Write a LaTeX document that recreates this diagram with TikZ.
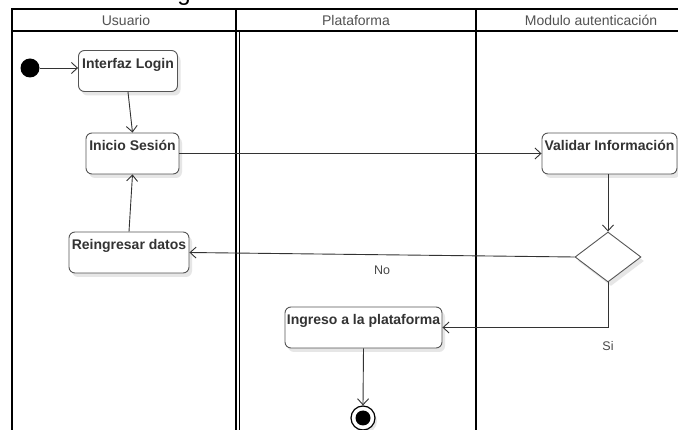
\documentclass[tikz,border=0pt]{standalone}
\usepackage{fontspec}
\setmainfont{Liberation Sans}
\usetikzlibrary{shapes.geometric,arrows.meta,shadows}
\definecolor{boxline}{HTML}{555555}
\definecolor{txt}{HTML}{333333}
\definecolor{wire}{HTML}{333333}
\tikzset{
  lane/.style={line width=1.6pt, draw=black},
  lanehead/.style={font=\fontsize{14}{16}\selectfont, text=txt!85},
  actbox/.style={draw=boxline, line width=0.9pt, fill=white, rounded corners=6pt,
    font=\bfseries\fontsize{14}{16}\selectfont, text=txt,
    inner xsep=0pt, inner ysep=6pt, text height=12pt, text depth=17pt,
    drop shadow={shadow xshift=3pt, shadow yshift=-4pt, fill=black!12, opacity=0.8}},
  decision/.style={diamond, draw=boxline, line width=0.9pt, fill=white, inner sep=0pt,
    minimum width=66pt, minimum height=50pt,
    drop shadow={shadow xshift=3pt, shadow yshift=-4pt, fill=black!12, opacity=0.8}},
  flow/.style={draw=wire, line width=0.9pt, -{Straight Barb[length=6pt,width=11pt]}},
  guard/.style={font=\fontsize{12.5}{14}\selectfont, text=txt!90},
}
\begin{document}
\begin{tikzpicture}[x=1pt,y=-1pt]
\useasboundingbox (0,0) rectangle (678,430);
\fill[white] (0,0) rectangle (678,430);

% title running off the top edge
\node[anchor=base, font=\fontsize{24}{26}\selectfont, text=black, inner sep=0pt] (title) at (184,0.5) {g};

% swimlane frame
\draw[lane] (690,9) -- (12,9) -- (12,440);
\draw[lane] (12,31) -- (690,31);
\draw[lane] (236,9) -- (236,440);
\draw[lane] (239.5,31) -- (239.5,440);
\draw[lane] (476,9) -- (476,440);
\node[lanehead] (hUser) at (126,20) {Usuario};
\node[lanehead] (hPlat) at (356,20) {Plataforma};
\node[lanehead] (hAuth) at (591,20) {Modulo autenticación};

% activities
\node[actbox, minimum width=99pt] (login) at (128,71) {Interfaz Login};
\node[actbox, minimum width=93pt] (inicio) at (132.5,153.5) {Inicio Sesión};
\node[actbox, minimum width=120pt] (reing) at (129,252.5) {Reingresar datos};
\node[actbox, minimum width=135pt] (valid) at (609.5,153.5) {Validar Información};
\node[actbox, minimum width=157pt] (ingreso) at (363.5,327.5) {Ingreso a la plataforma};
\node[decision] (dec) at (608,257) {};

% start and end
\node[circle, fill=black, minimum size=19pt, inner sep=0pt] (start) at (30,68) {};
\node[circle, draw=black, line width=1.2pt, fill=white, minimum size=24pt, inner sep=0pt,
  drop shadow={shadow xshift=2pt, shadow yshift=-3pt, fill=black!12, opacity=0.8}] (stop) at (363,418) {};
\node[circle, fill=black, minimum size=15pt, inner sep=0pt] (stopdot) at (stop) {};

% flows
\draw[flow] (start.east) -- (login.west |- start.east);
\draw[flow] (login.south) -- (inicio.north);
\draw[flow] (inicio.east) -- (valid.west);
\draw[flow] (valid.south -| dec.north) -- (dec.north);
\draw[flow] (dec.west) -- node[guard, below=7pt, pos=0.5] (no) {No} (reing.east);
\draw[flow] (reing.north) -- (inicio.south);
\coordinate (bend) at (dec.south |- ingreso.east);
\draw[flow] (dec.south) -- (bend) -- (ingreso.east);
\node[guard, anchor=north] (si) at ([yshift=-10pt]bend) {Si};
\draw[flow] (ingreso.south) -- (stop.north);
\end{tikzpicture}
\end{document}
